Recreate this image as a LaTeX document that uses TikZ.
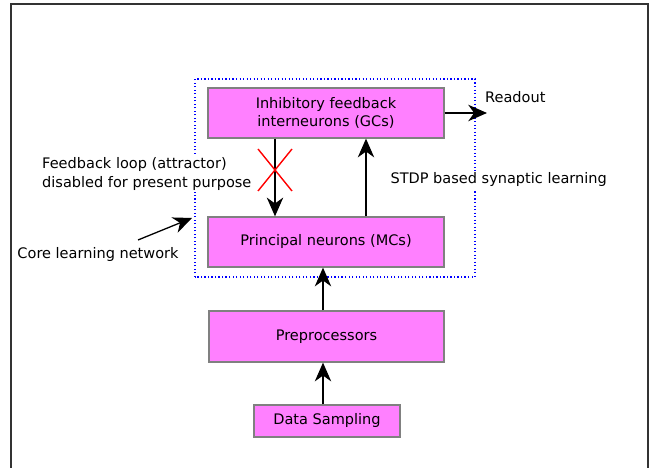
\documentclass[tikz,border=0pt]{standalone}
\usepackage{fontspec}
\setmainfont{DejaVu Sans}
\usetikzlibrary{arrows.meta}
\begin{document}
\begin{tikzpicture}[scale=1.0,
  block/.style={draw=gray, line width=1.1pt, fill={rgb,255:red,255;green,128;blue,255}, minimum height=1.5cm, inner sep=0pt},
  arr/.style={line width=1.1pt, -{Stealth[length=16pt,width=14pt,inset=5pt]}},
  txt/.style={font=\fontsize{12.4}{15.5}\selectfont}]
\useasboundingbox (0,0) rectangle (19.5,14.04);
\draw[line width=1.5pt, black!80] (0.33,0) -- (0.33,13.92) -- (19.44,13.92) -- (19.44,0);
\draw[blue, line width=1.2pt, dash pattern=on 1pt off 2pt] (5.85,5.73) rectangle (14.25,11.67);
\node[block, txt, minimum width=7.08cm, align=center] (gc) at (9.78,10.65) {Inhibitory feedback\\interneurons (GCs)};
\node[block, txt, minimum width=7.08cm] (mc) at (9.78,6.78) {Principal neurons (MCs)};
\node[block, txt, minimum width=7.05cm, minimum height=1.53cm] (pre) at (9.795,3.945) {Preprocessors};
\node[block, txt, minimum width=4.38cm, minimum height=0.96cm] (data) at (9.81,1.41) {Data Sampling};
\draw[arr] (gc.south -| 8.25,0) -- (mc.north -| 8.25,0);
\draw[arr] (mc.north -| 10.98,0) -- (gc.south -| 10.98,0);
\draw[arr] (data.north -| 9.69,0) -- (pre.south -| 9.69,0);
\draw[arr] (pre.north -| 9.69,0) -- (mc.south -| 9.69,0);
\coordinate (out) at (14.61,10.65);
\draw[arr] (gc.east) -- (out);
\node[txt, anchor=west] (readout) at (14.43,11.13) {Readout};
% the cut feedback loop
\draw[red, line width=1.2pt] (7.74,8.31) -- (8.76,9.57);
\draw[red, line width=1.2pt] (7.74,9.57) -- (8.76,8.31);
\node[txt, fill=white, align=left, anchor=east, inner sep=2pt] (loop) at (7.62,8.82) {Feedback loop (attractor)\\disabled for present purpose};
\node[txt, fill=white, anchor=west, inner sep=2pt] (stdp) at (11.64,8.64) {STDP based synaptic learning};
\node[txt, anchor=west] (core) at (0.4,6.39) {Core learning network};
\coordinate (edge) at (5.76,7.5);
\draw[arr] (4.14,6.84) -- (edge);
\end{tikzpicture}
\end{document}
